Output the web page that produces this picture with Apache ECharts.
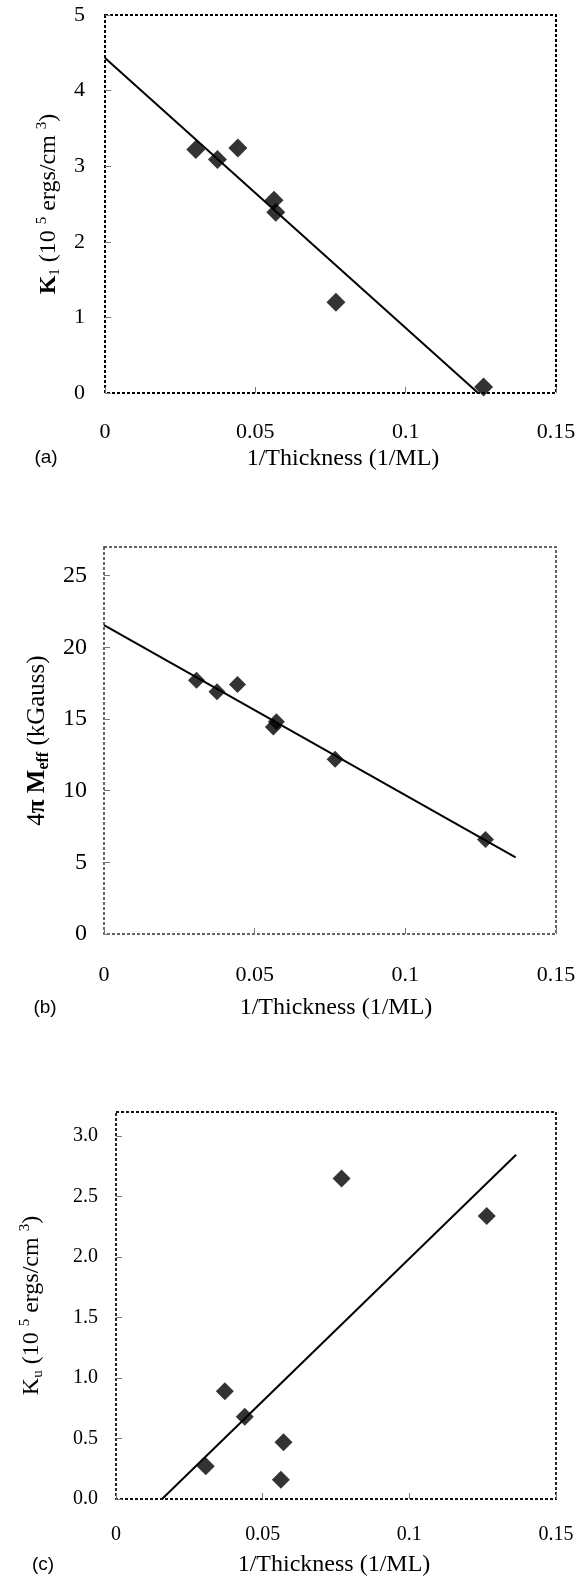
<!DOCTYPE html>
<html>
<head>
<meta charset="utf-8">
<script src="https://cdn.jsdelivr.net/npm/echarts@6.0.0/dist/echarts.min.js"></script>
<style>
html,body{margin:0;padding:0;background:#fff;}
#chart{width:579px;height:1576px;}
</style>
</head>
<body>
<div id="chart"></div>
<script>
// ---- data ----
const xTickValues = [0, 0.05, 0.1, 0.15];

// (a) K1 vs 1/thickness
const k1InvThickness = [0.0302, 0.0374, 0.0442, 0.0562, 0.0568, 0.0768, 0.1259];
const k1Values       = [3.22, 3.09, 3.24, 2.55, 2.39, 1.20, 0.08];
const k1FitX = [0, 0.1241];
const k1FitY = [4.43, 0];
const k1Ticks = [0, 1, 2, 3, 4, 5];

// (b) 4pi Meff vs 1/thickness
const meffInvThickness = [0.0307, 0.0375, 0.0443, 0.0562, 0.0572, 0.0767, 0.1266];
const meffValues       = [17.7, 16.9, 17.4, 14.45, 14.8, 12.2, 6.6];
const meffFitX = [0, 0.1366];
const meffFitY = [21.55, 5.35];
const meffTicks = [0, 5, 10, 15, 20, 25];

// (c) Ku vs 1/thickness
const kuInvThickness = [0.0306, 0.0371, 0.0439, 0.0562, 0.0571, 0.0769, 0.1264];
const kuValues       = [0.27, 0.89, 0.68, 0.16, 0.47, 2.65, 2.34];
const kuFitX = [0.0157, 0.1364];
const kuFitY = [0, 2.847];
const kuTicks = [0, 0.5, 1.0, 1.5, 2.0, 2.5, 3.0];

const panelLabels = ['(a)', '(b)', '(c)'];
const xTitle = '1/Thickness (1/ML)';

// ---- build ----
const zip = (a, b) => a.map((v, i) => [v, b[i]]);
const serif = '"Liberation Serif","Times New Roman",serif';
const sans = '"Liberation Sans",Arial,sans-serif';

const grids = [
  {left: 105, top: 15, width: 451, height: 378, bw: 2, bc: '#000'},
  {left: 104, top: 547, width: 452, height: 387, bw: 1.5, bc: '#333'},
  {left: 116, top: 1112, width: 440, height: 387, bw: 1.8, bc: '#111'}
];

const chart = echarts.init(document.getElementById('chart'), null, {renderer: 'canvas'});

function xAxis(i, margin, fs) {
  return {
    gridIndex: i, type: 'value',
    min: xTickValues[0], max: xTickValues[xTickValues.length - 1],
    interval: xTickValues[1] - xTickValues[0],
    axisLine: {show: false},
    splitLine: {show: false},
    axisTick: {show: true, inside: true, length: 6, lineStyle: {color: '#777', width: 1}},
    axisLabel: {margin: margin, fontFamily: serif, fontSize: fs, color: '#000'}
  };
}

function richStyles(fs) {
  const s = Math.round(fs * 0.62);
  return {
    n: {fontFamily: serif, fontSize: fs, lineHeight: fs + 4, color: '#000'},
    b: {fontFamily: serif, fontSize: fs, fontWeight: 'bold', lineHeight: fs + 4, color: '#000'},
    sub: {fontFamily: serif, fontSize: s, lineHeight: s, verticalAlign: 'bottom', color: '#000'},
    subb: {fontFamily: serif, fontSize: s, fontWeight: 'bold', lineHeight: s, verticalAlign: 'bottom', color: '#000'},
    sup: {fontFamily: serif, fontSize: s, lineHeight: s, verticalAlign: 'top', color: '#000'}
  };
}

function yAxis(i, ticks, max, opts) {
  return {
    gridIndex: i, type: 'value',
    min: ticks[0], max: max, interval: ticks[1] - ticks[0],
    axisLine: {show: false},
    splitLine: {show: false},
    axisTick: {show: true, inside: true, length: 6, lineStyle: {color: '#777', width: 1}},
    axisLabel: {
      margin: opts.margin, fontFamily: serif, fontSize: opts.fs, color: '#000',
      showMaxLabel: opts.showMax,
      formatter: opts.fmt
    },
    name: opts.name,
    nameLocation: 'middle',
    nameGap: opts.nameGap,
    nameRotate: 90,
    nameTextStyle: {
      fontFamily: serif, fontSize: opts.nfs, color: '#000',
      rich: richStyles(opts.nfs)
    }
  };
}

function scatter(i, xs, ys, size) {
  return {
    type: 'scatter', xAxisIndex: i, yAxisIndex: i,
    data: zip(xs, ys), symbol: 'diamond', symbolSize: size,
    itemStyle: {color: '#000'}, z: 3, silent: true
  };
}
function fit(i, xs, ys, w) {
  return {
    type: 'line', xAxisIndex: i, yAxisIndex: i,
    data: zip(xs, ys), showSymbol: false, symbol: 'none',
    lineStyle: {color: '#000', width: w}, z: 2, silent: true
  };
}

const titlePos = [
  {tx: 343, ty: 459, lx: 46, ly: 458},
  {tx: 336, ty: 1008, lx: 45, ly: 1008},
  {tx: 334, ty: 1565, lx: 43, ly: 1565}
];

const graphic = [];
titlePos.forEach((p, i) => {
  graphic.push({type: 'text', x: p.tx, y: p.ty, silent: true,
    style: {text: xTitle, font: '24px ' + serif, fill: '#000', align: 'center', verticalAlign: 'middle'}});
  graphic.push({type: 'text', x: p.lx, y: p.ly, silent: true,
    style: {text: panelLabels[i], font: '19px ' + sans, fill: '#000', align: 'center', verticalAlign: 'middle'}});
});

const option = {
  animation: false,
  backgroundColor: '#fff',
  grid: grids.map(g => ({
    left: g.left, top: g.top, width: g.width, height: g.height,
    show: true, borderColor: g.bc, borderWidth: g.bw, borderType: [3, 2],
    backgroundColor: 'transparent', containLabel: false
  })),
  xAxis: [xAxis(0, 28, 22), xAxis(1, 30, 22), xAxis(2, 26, 20)],
  yAxis: [
    yAxis(0, k1Ticks, 5, {margin: 20, fs: 22, showMax: true, nfs: 24,
      name: '{b|K}{sub|1}{n| (10 }{sup|5}{n| ergs/cm }{sup|3}{n|)}', nameGap: 42}),
    yAxis(1, meffTicks, 27, {margin: 17, fs: 24, showMax: false, nfs: 25,
      name: '{n|4}{b|π M}{subb|eff}{n| (kGauss)}', nameGap: 41}),
    yAxis(2, kuTicks, 3.2, {margin: 18, fs: 20, showMax: false, nfs: 24,
      fmt: v => v.toFixed(1),
      name: '{n|K}{sub|u}{n| (10 }{sup|5}{n| ergs/cm }{sup|3}{n|)}', nameGap: 70})
  ],
  series: [
    fit(0, k1FitX, k1FitY, 2), scatter(0, k1InvThickness, k1Values, 19),
    fit(1, meffFitX, meffFitY, 2), scatter(1, meffInvThickness, meffValues, 17),
    fit(2, kuFitX, kuFitY, 2), scatter(2, kuInvThickness, kuValues, 18)
  ],
  graphic: graphic
};
chart.setOption(option);
</script>
</body>
</html>
